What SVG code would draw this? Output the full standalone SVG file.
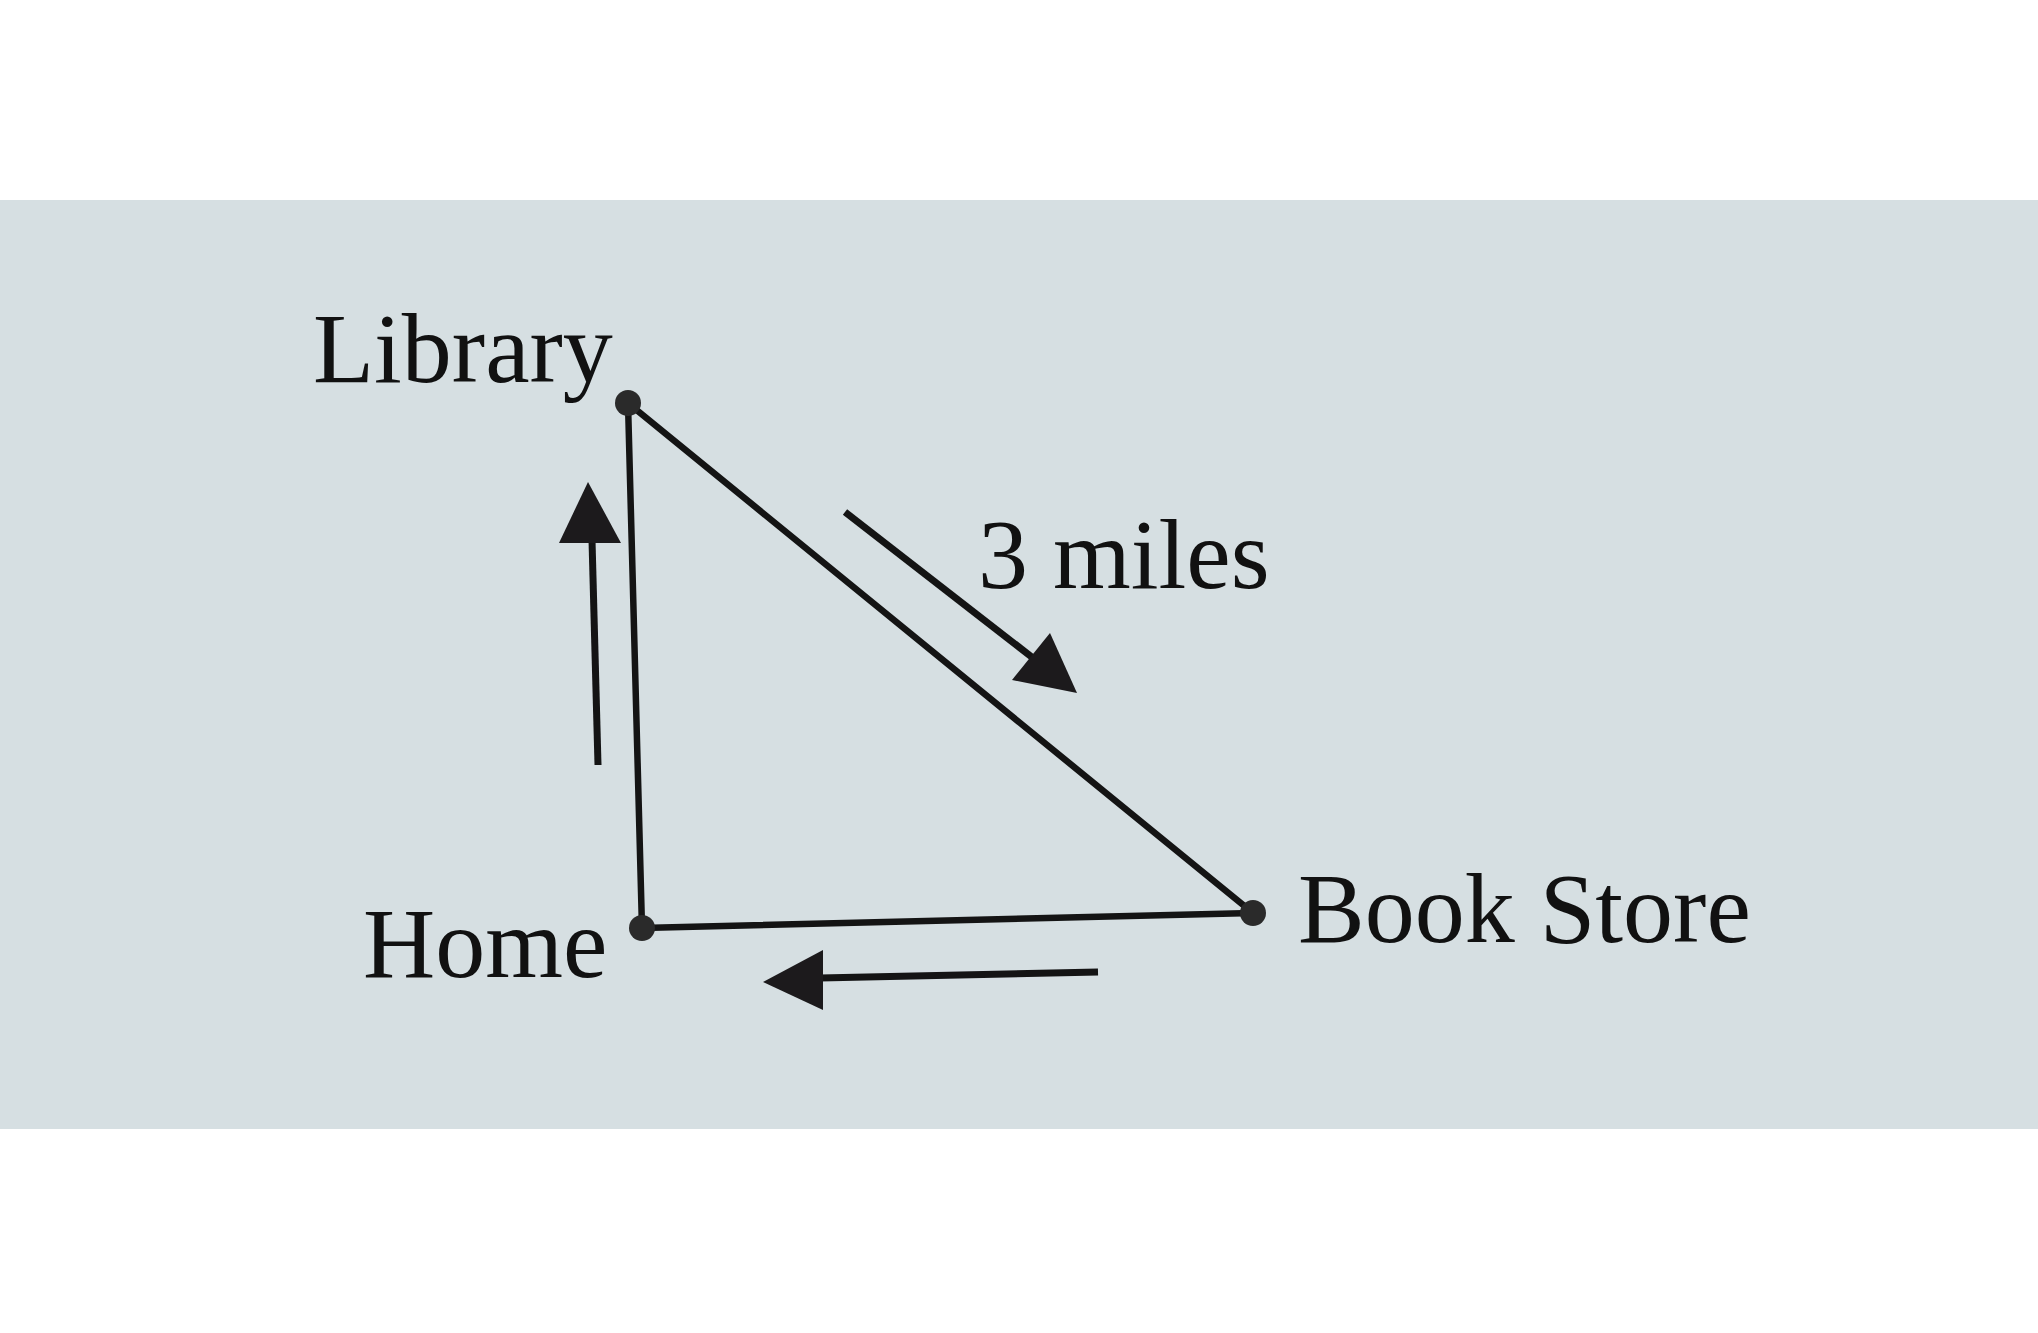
<svg xmlns="http://www.w3.org/2000/svg" width="2038" height="1333" viewBox="0 0 2038 1333">
<style>
.lbl{font-family:"Liberation Serif","Times New Roman",serif;font-size:100px;fill:#111111}
.edge{stroke:#141414;stroke-width:6.5;fill:none;stroke-linecap:round}
.shaft{stroke:#141414;stroke-width:7;fill:none}
.head{fill:#1c1a1c}
.dot{fill:#2a2a2a}
</style>
<rect x="0" y="0" width="2038" height="1333" fill="#ffffff"/>
<rect x="0" y="200" width="2038" height="929" fill="#d6dfe2"/>
<g id="connectors">
<line class="edge" x1="628" y1="403" x2="642" y2="928"/>
<line class="edge" x1="628" y1="403" x2="1253" y2="913"/>
<line class="edge" x1="642" y1="928" x2="1253" y2="913"/>
<g id="arrow-up">
<line class="shaft" x1="598" y1="765" x2="592" y2="540"/>
<polygon class="head" points="588,482 559,543 621,543"/>
</g>
<g id="arrow-diag">
<line class="shaft" x1="845" y1="512" x2="1033" y2="658"/>
<polygon class="head" points="1077,693 1050,633 1012,680"/>
</g>
<g id="arrow-left">
<line class="shaft" x1="1098" y1="972" x2="820" y2="978"/>
<polygon class="head" points="763,982 823,950 823,1010"/>
</g>
</g>
<g id="library">
<circle class="dot" cx="628" cy="403" r="13"/>
<text class="lbl" x="313" y="382">Library</text>
</g>
<g id="home">
<circle class="dot" cx="642" cy="928" r="13"/>
<text class="lbl" x="363" y="977">Home</text>
</g>
<g id="bookstore">
<circle class="dot" cx="1253" cy="913" r="13"/>
<text class="lbl" x="1298" y="942">Book Store</text>
</g>
<g id="distance-label">
<text class="lbl" x="978" y="588">3 miles</text>
</g>
</svg>
